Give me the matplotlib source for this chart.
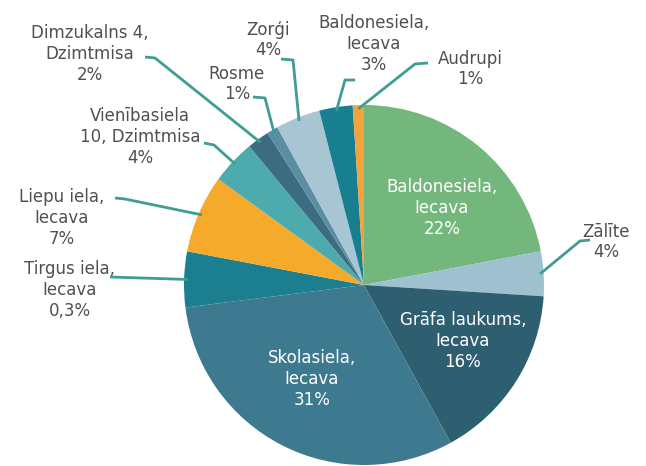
import numpy as np
import matplotlib
matplotlib.use('Agg')
import matplotlib.pyplot as plt

# slices, clockwise from 12 o'clock
labels = ["Baldonesiela,\nIecava\n22%", "Zālīte\n4%", "Grāfa laukums,\nIecava\n16%",
          "Skolasiela,\nIecava\n31%", "Tirgus iela,\nIecava\n0,3%", "Liepu iela,\nIecava\n7%",
          "Vienībasiela\n10, Dzimtmisa\n4%", "Dimzukalns 4,\nDzimtmisa\n2%", "Rosme\n1%",
          "Zorģi\n4%", "Baldonesiela,\nIecava\n3%", "Audrupi\n1%"]
values = [22, 4, 16, 31, 5, 7, 4, 2, 1, 4, 3, 1]
colors = ["#74b77c", "#9fc1cf", "#2d5f70", "#3e7a8f", "#1b7f90", "#f5aa2c",
          "#4eabad", "#3b6c82", "#5b8ea2", "#a7c5d3", "#177f90", "#f2a33d"]

W, H = 646, 466
CX, CY, R = 364, 285, 180   # pie centre / radius in pixels (y from top)

# label layout: text centre, then leader line points (pixel coords, y from top)
inside = {0: (442, 208), 2: (463, 341), 3: (312, 379)}
outside = {
    1: ((606, 242), [(590, 240), (580, 241)]),
    4: ((70, 290), [(110, 277)]),
    5: ((62, 218), [(115, 198), (125, 199)]),
    6: ((140, 137), [(204, 143), (214, 145)]),
    7: ((90, 54), [(145, 57), (155, 58)]),
    8: ((237, 84), [(253, 97), (265, 98)]),
    9: ((268, 40), [(281, 59), (293, 60)]),
    10: ((374, 44), [(355, 80), (345, 80)]),
    11: ((470, 69), [(428, 63), (415, 64)]),
}

plt.rcParams['font.family'] = ['DejaVu Sans']
fig = plt.figure(figsize=(W / 100, H / 100), dpi=100)
ax = fig.add_axes([0, 0, 1, 1])

wedges, _ = ax.pie(values, colors=colors, startangle=90, counterclock=False,
                   center=(CX, H - CY), radius=R, wedgeprops=dict(linewidth=0))

text_kw = dict(ha='center', va='center', fontsize=12, linespacing=1.2)
for i, (x, y) in inside.items():
    ax.text(x, H - y, labels[i], color='white', **text_kw)

line_color = "#3f9d93"
for i, ((x, y), pts) in outside.items():
    ax.text(x, H - y, labels[i], color='#505050', **text_kw)
    w = wedges[i]
    mid = np.deg2rad((w.theta1 + w.theta2) / 2)
    ex = CX + R * 0.98 * np.cos(mid)
    ey = CY - R * 0.98 * np.sin(mid)
    xs = [p[0] for p in pts] + [ex]
    ys = [H - p[1] for p in pts] + [H - ey]
    ax.plot(xs, ys, color=line_color, lw=2, solid_capstyle='butt')

ax.set_xlim(0, W)
ax.set_ylim(0, H)
ax.axis('off')

plt.savefig("out.png", dpi=100)
